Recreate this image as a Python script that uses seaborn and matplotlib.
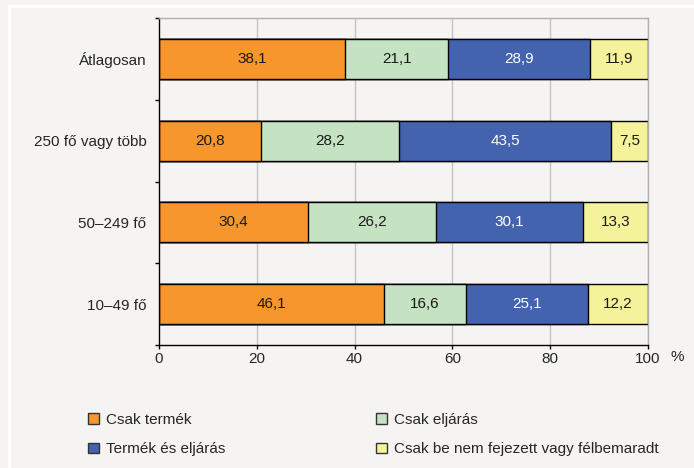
import matplotlib
matplotlib.use("Agg")
import matplotlib.pyplot as plt
from matplotlib.patches import Patch
from matplotlib.lines import Line2D
import seaborn as sns
import pandas as pd
import numpy as np

categories = ["Átlagosan", "250 fő vagy több", "50–249 fő", "10–49 fő"]
series_names = ["Csak termék", "Csak eljárás", "Termék és eljárás",
                "Csak be nem fejezett vagy félbemaradt"]
csak_termek = [38.1, 20.8, 30.4, 46.1]
csak_eljaras = [21.1, 28.2, 26.2, 16.6]
termek_es_eljaras = [28.9, 43.5, 30.1, 25.1]
felbemaradt = [11.9, 7.5, 13.3, 12.2]
x_ticks = [0, 20, 40, 60, 80, 100]

colors = ["#F7962D", "#C5E3C2", "#4363AE", "#F4F29A"]
text_colors = ["#1a1a1a", "#1a1a1a", "white", "#1a1a1a"]
bg = "#F5F4F2"

sns.set_theme(style="white")
plt.rcParams["font.family"] = ["Liberation Sans", "DejaVu Sans"]

values = [csak_termek, csak_eljaras, termek_es_eljaras, felbemaradt]
df = pd.DataFrame({"kategoria": categories})
for name, vals in zip(series_names, values):
    df[name] = vals
cum = df[series_names].cumsum(axis=1)

fig = plt.figure(figsize=(6.94, 4.68), dpi=100, facecolor=bg)
ax = fig.add_axes([159 / 694, 1 - 345 / 468, (648 - 159) / 694, (345 - 18) / 468])
ax.set_facecolor(bg)

# vertical grid lines
for t in x_ticks[1:]:
    ax.axvline(t, color="#C4C4C4", lw=1, zorder=0)

# stacked bars: draw cumulative totals from the last series back to the first
for i in range(len(series_names) - 1, -1, -1):
    sns.barplot(data=cum.assign(kategoria=categories), x=series_names[i], y="kategoria",
                order=categories, orient="y", color=colors[i], saturation=1,
                width=0.49, edgecolor="black", linewidth=1, ax=ax, zorder=2)

# value labels centred in each segment
for j, cat in enumerate(categories):
    left = 0.0
    for i, name in enumerate(series_names):
        v = df.loc[j, name]
        ax.text(left + v / 2, j, f"{v:.1f}".replace(".", ","), ha="center", va="center",
                fontsize=11, color=text_colors[i], zorder=3)
        left += v

ax.set_xlim(0, 100)
ax.set_ylim(3.5, -0.5)
ax.set_xlabel("")
ax.set_ylabel("")
ax.set_xticks(x_ticks)
ax.set_xticklabels([str(t) for t in x_ticks], fontsize=11)
ax.set_yticks(range(len(categories)))
ax.set_yticklabels(categories, fontsize=11)
ax.set_yticks(np.arange(-0.5, len(categories), 1), minor=True)
ax.tick_params(axis="y", which="major", length=0, pad=9)
ax.tick_params(axis="y", which="minor", length=3, width=1, color="black", direction="out", left=True)
ax.tick_params(axis="x", length=3, width=1, color="black", direction="out", bottom=True, pad=2)

for side in ["left", "bottom"]:
    ax.spines[side].set_color("black")
    ax.spines[side].set_linewidth(1)
for side in ["top", "right"]:
    ax.spines[side].set_color("#B0B0B0")
    ax.spines[side].set_linewidth(1)

fig.text(677 / 694, 1 - 357 / 468, "%", ha="center", va="center", fontsize=11)

# legend, two columns
def handles(idx):
    return [Patch(facecolor=colors[i], edgecolor="#333333", linewidth=1) for i in idx]

leg_kw = dict(frameon=False, fontsize=11, handlelength=0.7, handleheight=0.7,
              handletextpad=0.5, labelspacing=1.0, borderaxespad=0, borderpad=0)
leg1 = fig.legend(handles([0, 2]), [series_names[0], series_names[2]],
                  loc="upper left", bbox_to_anchor=(88 / 694, 1 - 413 / 468), **leg_kw)
leg2 = fig.legend(handles([1, 3]), [series_names[1], series_names[3]],
                  loc="upper left", bbox_to_anchor=(376 / 694, 1 - 413 / 468), **leg_kw)

# white frame lines along the top and left edges
fig.add_artist(Line2D([9 / 694, 9 / 694], [0, 1 - 6 / 468], transform=fig.transFigure,
                      color="white", lw=2))
fig.add_artist(Line2D([9 / 694, 1], [1 - 6 / 468, 1 - 6 / 468], transform=fig.transFigure,
                      color="white", lw=2))

fig.savefig("out.png", dpi=100, facecolor=bg)
